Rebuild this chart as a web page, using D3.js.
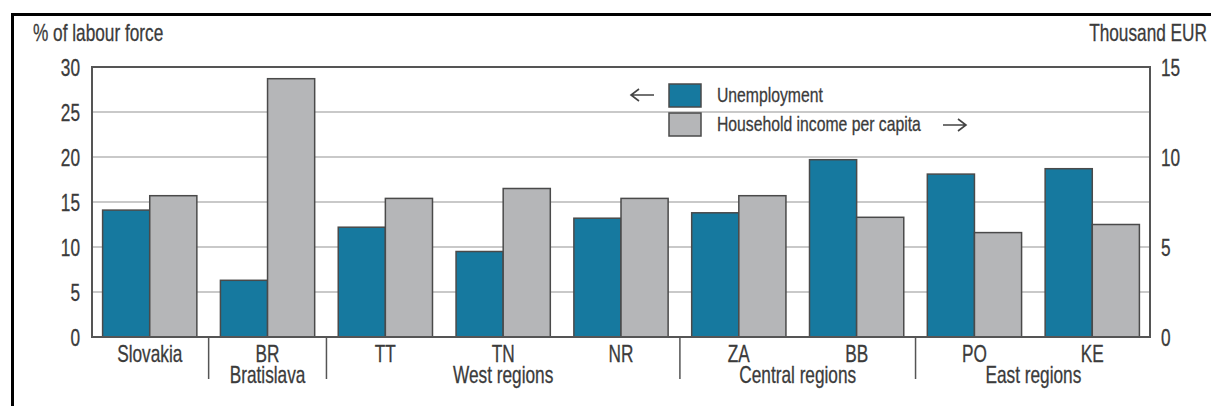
<!DOCTYPE html>
<html>
<head>
<meta charset="utf-8">
<script src="https://cdn.jsdelivr.net/npm/d3@7"></script>
<style>
  body { margin: 0; background: #fff; }
  svg text { font-family: "Liberation Sans", Arial, sans-serif; fill: #3b3b3b; stroke: #3b3b3b; stroke-width: 0.3px; }
</style>
</head>
<body>
<div id="chart"></div>
<script>
// values
var categories = ["Slovakia", "BR", "TT", "TN", "NR", "ZA", "BB", "PO", "KE"];
var unemployment = [14.1, 6.3, 12.2, 9.5, 13.2, 13.8, 19.7, 18.1, 18.7];   // % of labour force
var income = [7.85, 14.35, 7.7, 8.25, 7.7, 7.85, 6.65, 5.8, 6.25];        // thousand EUR
var groupLabels = ["Bratislava", "West regions", "Central regions", "East regions"];
var groupFirst = ["BR", "TT", "ZA", "PO"];
var groupLast = ["BR", "NR", "BB", "KE"];
var leftTicks = [0, 5, 10, 15, 20, 25, 30];
var rightTicks = [0, 5, 10, 15];
var seriesNames = ["Unemployment", "Household income per capita"];

var width = 1211, height = 406;
var plotLeft = 92, plotRight = 1150, plotTop = 67, plotBottom = 337;
var narrow = 0.75; // no narrow font installed, so squeeze text horizontally

var svg = d3.select("#chart").append("svg")
  .attr("width", width)
  .attr("height", height);

// outer black frame (runs off right and bottom edges)
svg.append("rect")
  .attr("x", 12.5).attr("y", 14.5)
  .attr("width", 1300).attr("height", 500)
  .attr("fill", "none")
  .attr("stroke", "#000")
  .attr("stroke-width", 3);

var x = d3.scaleBand()
  .domain(categories)
  .range([plotLeft, plotRight])
  .paddingInner(0.2)
  .paddingOuter(0.09);

var xSub = d3.scaleBand()
  .domain(["u", "i"])
  .range([0, x.bandwidth()]);

var yL = d3.scaleLinear().domain([0, 30]).range([plotBottom, plotTop]);
var yR = d3.scaleLinear().domain([0, 15]).range([plotBottom, plotTop]);

// gridlines
svg.append("g")
  .selectAll("line")
  .data(leftTicks.filter(function(d) { return d > 0 && d < 30; }))
  .enter().append("line")
  .attr("x1", plotLeft).attr("x2", plotRight)
  .attr("y1", function(d) { return yL(d); })
  .attr("y2", function(d) { return yL(d); })
  .attr("stroke", "#c9c9c9")
  .attr("stroke-width", 2);

// bars
var bar = svg.append("g")
  .selectAll("g")
  .data(categories)
  .enter().append("g")
  .attr("transform", function(d) { return "translate(" + x(d) + ",0)"; });

bar.append("rect")
  .attr("x", xSub("u"))
  .attr("width", xSub.bandwidth())
  .attr("y", function(d, i) { return yL(unemployment[i]); })
  .attr("height", function(d, i) { return plotBottom - yL(unemployment[i]); })
  .attr("fill", "#16799f")
  .attr("stroke", "#4a4a4a")
  .attr("stroke-width", 1.5);

bar.append("rect")
  .attr("x", xSub("i"))
  .attr("width", xSub.bandwidth())
  .attr("y", function(d, i) { return yR(income[i]); })
  .attr("height", function(d, i) { return plotBottom - yR(income[i]); })
  .attr("fill", "#b5b6b8")
  .attr("stroke", "#4a4a4a")
  .attr("stroke-width", 1.5);

// plot frame
svg.append("rect")
  .attr("x", plotLeft).attr("y", plotTop)
  .attr("width", plotRight - plotLeft).attr("height", plotBottom - plotTop)
  .attr("fill", "none")
  .attr("stroke", "#555")
  .attr("stroke-width", 2);

// y axes (labels only)
var axL = svg.append("g")
  .attr("transform", "translate(" + plotLeft + ",0)")
  .call(d3.axisLeft(yL).tickValues(leftTicks).tickSize(0).tickPadding(12));
var axR = svg.append("g")
  .attr("transform", "translate(" + plotRight + ",0)")
  .call(d3.axisRight(yR).tickValues(rightTicks).tickSize(0).tickPadding(11));
[axL, axR].forEach(function(ax) {
  ax.select(".domain").remove();
  ax.attr("font-family", null).attr("font-size", null);
  ax.selectAll("text")
    .style("font-size", "23px")
    .attr("dy", "0.36em");
});

svg.append("text")
  .attr("x", 33).attr("y", 41)
  .style("font-size", "23px")
  .text("% of labour force");

svg.append("text")
  .attr("x", 1207).attr("y", 41)
  .attr("text-anchor", "end")
  .style("font-size", "23px")
  .text("Thousand EUR");

// category labels
svg.append("g")
  .selectAll("text")
  .data(categories)
  .enter().append("text")
  .attr("x", function(d) { return x(d) + x.bandwidth() / 2; })
  .attr("y", 362)
  .attr("text-anchor", "middle")
  .style("font-size", "23px")
  .text(function(d) { return d; });

// group labels and separators
var step = x.step();
svg.append("g")
  .selectAll("text")
  .data(groupLabels)
  .enter().append("text")
  .attr("x", function(d, i) {
    return (x(groupFirst[i]) + x(groupLast[i]) + x.bandwidth()) / 2;
  })
  .attr("y", 383)
  .attr("text-anchor", "middle")
  .style("font-size", "23px")
  .text(function(d) { return d; });

svg.append("g")
  .selectAll("line")
  .data(groupFirst)
  .enter().append("line")
  .attr("x1", function(d) { return x(d) - (step - x.bandwidth()) / 2; })
  .attr("x2", function(d) { return x(d) - (step - x.bandwidth()) / 2; })
  .attr("y1", plotBottom)
  .attr("y2", 379)
  .attr("stroke", "#555")
  .attr("stroke-width", 1.5);

// legend
var legendColors = ["#16799f", "#b5b6b8"];
var legend = svg.append("g")
  .selectAll("g")
  .data(seriesNames)
  .enter().append("g")
  .attr("transform", function(d, i) { return "translate(669," + (84 + i * 29) + ")"; });

legend.append("rect")
  .attr("width", 32).attr("height", 23)
  .attr("fill", function(d, i) { return legendColors[i]; })
  .attr("stroke", "#4a4a4a")
  .attr("stroke-width", 1.5);

legend.append("text")
  .attr("x", 48).attr("y", 18)
  .style("font-size", "21px")
  .text(function(d) { return d; });

// arrows telling which axis each series uses
function arrow(x1, x2, y) {
  var dir = x2 > x1 ? -1 : 1;
  svg.append("path")
    .attr("d", "M" + x1 + "," + y + "H" + x2 +
      "M" + (x2 + dir * 8) + "," + (y - 6) + "L" + x2 + "," + y + "L" + (x2 + dir * 8) + "," + (y + 6))
    .attr("fill", "none")
    .attr("stroke", "#444")
    .attr("stroke-width", 1.6);
}
arrow(654, 631, 95);
arrow(943, 966, 125);

// condense every label around its own anchor point
svg.selectAll("text").each(function() {
  var tx = +d3.select(this).attr("x") || 0;
  d3.select(this).attr("transform", "translate(" + (tx * (1 - narrow)) + ",0) scale(" + narrow + ",1)");
});
</script>
</body>
</html>
